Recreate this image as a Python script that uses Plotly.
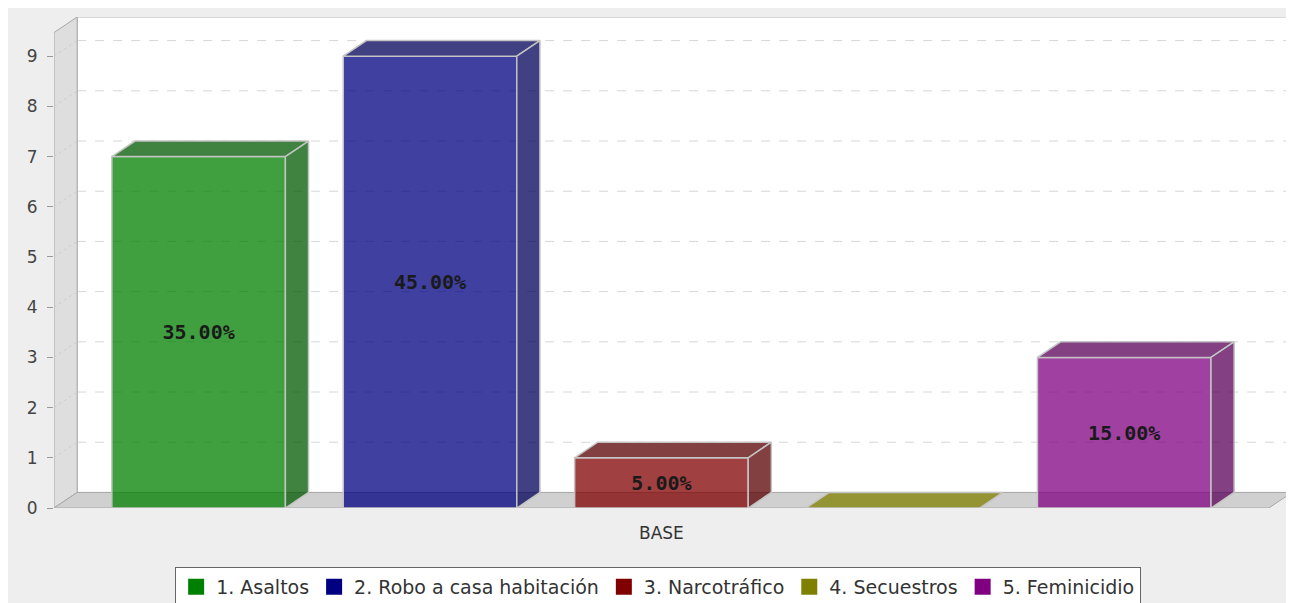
import plotly.graph_objects as go

categories = ["BASE"]
series_names = [
    "1. Asaltos",
    "2. Robo a casa habitación",
    "3. Narcotráfico",
    "4. Secuestros",
    "5. Feminicidio",
]
series_values = [7, 9, 1, 0, 3]
series_colors = ["#008000", "#000080", "#800000", "#808000", "#800080"]
y_ticks = [0, 1, 2, 3, 4, 5, 6, 7, 8, 9]

# 3D look
BAR_W = 0.75
DX, DY = 0.1, 0.31
X0, X1 = -0.625, 4.625
Y_MAX = 9.78
ALPHA = 0.75
EDGE = "#c4c4c4"
FONT = "DejaVu Sans"


def rgba(hex_color, factor=1.0, alpha=ALPHA):
    h = hex_color.lstrip("#")
    r, g, b = (int(int(h[i:i + 2], 16) * factor) for i in (0, 2, 4))
    return f"rgba({r},{g},{b},{alpha})"


total = sum(series_values)
xs = list(range(len(series_values)))
labels = [f"<b>{v / total * 100:.2f}%</b>" if v else "" for v in series_values]

fig = go.Figure()

# front faces
fig.add_trace(go.Bar(
    x=xs, y=series_values, width=BAR_W,
    marker=dict(color=[rgba(c) for c in series_colors], line=dict(color=EDGE, width=1.5)),
    text=labels, textposition="inside", insidetextanchor="middle",
    textfont=dict(family="DejaVu Sans Mono", size=20, color="#1a1a1a"),
    constraintext="none", cliponaxis=False,
    showlegend=False, hoverinfo="skip",
))

# top and side faces
for x, v, c in zip(xs, series_values, series_colors):
    l, r = x - BAR_W / 2, x + BAR_W / 2
    top = rgba(c, 0.7) if v else rgba(c)
    fig.add_trace(go.Scatter(
        x=[l, r, r + DX, l + DX, l], y=[v, v, v + DY, v + DY, v],
        fill="toself", fillcolor=top, mode="lines", line=dict(color=EDGE, width=1.5),
        showlegend=False, hoverinfo="skip",
    ))
    if v > 0:
        fig.add_trace(go.Scatter(
            x=[r, r + DX, r + DX, r, r], y=[0, DY, v + DY, v, 0],
            fill="toself", fillcolor=rgba(c, 0.7), mode="lines", line=dict(color=EDGE, width=1.5),
            showlegend=False, hoverinfo="skip",
        ))

# legend entries
for name, c in zip(series_names, series_colors):
    fig.add_trace(go.Scatter(
        x=[None], y=[None], mode="markers", name=name,
        marker=dict(symbol="square", size=16, color=c),
    ))

shapes = [
    # back wall
    dict(type="rect", x0=X0 + DX, x1=X1 + DX, y0=DY, y1=Y_MAX,
         fillcolor="white", line=dict(color="#b4b4b4", width=1), layer="below"),
]
for k in y_ticks[1:]:
    shapes.append(dict(type="line", x0=X0 + DX, x1=X1 + DX, y0=k + DY, y1=k + DY,
                       line=dict(color="#d6d6d6", width=1, dash="dash"), layer="below"))
shapes.append(dict(
    type="path",
    path=f"M {X0},0 L {X0},{Y_MAX - DY} L {X0 + DX},{Y_MAX} L {X0 + DX},{DY} Z",
    fillcolor="#dedede", line=dict(color="#a8a8a8", width=1), layer="below"))
for k in y_ticks[1:]:
    shapes.append(dict(type="line", x0=X0, x1=X0 + DX, y0=k, y1=k + DY,
                       line=dict(color="#cdcdcd", width=1, dash="dot"), layer="below"))
shapes.append(dict(
    type="path",
    path=f"M {X0},0 L {X1},0 L {X1 + DX},{DY} L {X0 + DX},{DY} Z",
    fillcolor="#d0d0d0", line=dict(color="#a8a8a8", width=1), layer="below"))

fig.update_layout(
    width=1294, height=603,
    margin=dict(l=46, r=10, t=9, b=103),
    paper_bgcolor="#eeeeee", plot_bgcolor="rgba(0,0,0,0)",
    font=dict(family=FONT, size=17, color="#333333"),
    shapes=shapes,
    xaxis=dict(range=[X0, X1 + DX], showgrid=False, zeroline=False, showline=False,
               showticklabels=False, ticks="", fixedrange=True),
    yaxis=dict(range=[0, Y_MAX], tickvals=y_ticks, showgrid=False, zeroline=False,
               showline=False, ticks="outside", ticklen=6, tickcolor="#999999",
               ticklabelstandoff=6, automargin=False,
               tickfont=dict(size=17, color="#444444"), fixedrange=True),
    legend=dict(orientation="h", x=0.488, xanchor="center",
                yref="container", y=0.073, yanchor="top",
                bgcolor="white", bordercolor="#666666", borderwidth=1,
                font=dict(size=19, color="#333333"), itemwidth=30),
    showlegend=True,
)

fig.add_annotation(x=(X0 + X1) / 2, y=0, text=categories[0], showarrow=False,
                   yanchor="top", yshift=-13, font=dict(size=17, color="#333333"))

fig.write_html("out.html")
